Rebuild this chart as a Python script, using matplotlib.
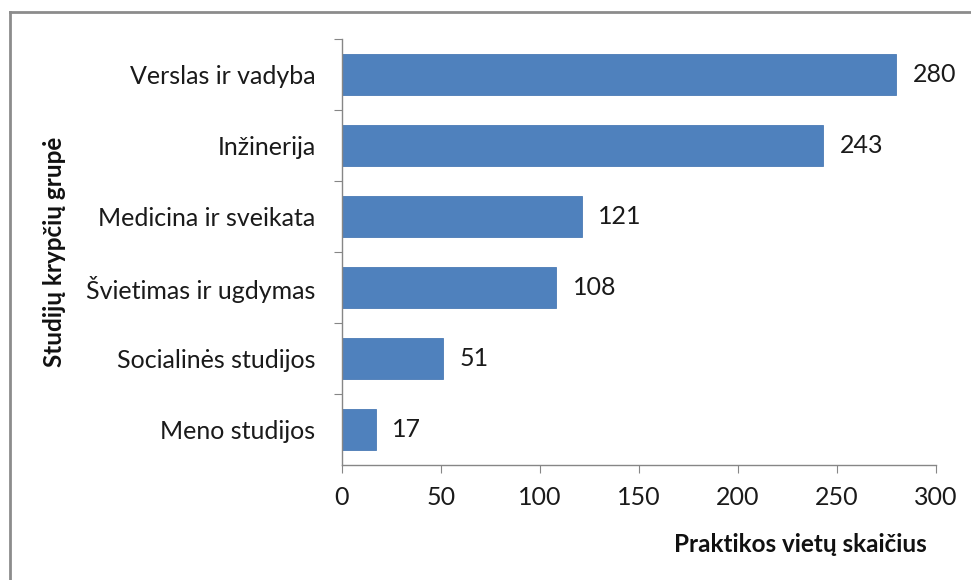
import matplotlib.pyplot as plt
from matplotlib.lines import Line2D

categories = ["Verslas ir vadyba", "Inžinerija", "Medicina ir sveikata",
              "Švietimas ir ugdymas", "Socialinės studijos", "Meno studijos"]
values = [280, 243, 121, 108, 51, 17]

plt.rcParams["font.family"] = ["Lato", "DejaVu Sans"]

fig = plt.figure(figsize=(9.71, 5.8), dpi=100)
ax = fig.add_axes([0.3522, 0.1983, 0.6118, 0.7345])

# chart-area border (only left and top edges visible in the crop)
x0, y0 = 9.5 / 971, 1 - 11.5 / 580
fig.lines.append(Line2D([x0, x0], [0, y0], transform=fig.transFigure, color="#8c8c8c", linewidth=2))
fig.lines.append(Line2D([x0, 1], [y0, y0], transform=fig.transFigure, color="#8c8c8c", linewidth=2))

pos = list(range(len(categories)))[::-1]
ax.barh(pos, values, height=0.58, color="#4f81bd", edgecolor="#4a7ab5", linewidth=0.6)

for p, v in zip(pos, values):
    ax.annotate(str(v), (v, p), xytext=(12, 0), textcoords="offset points",
                va="center", ha="left", fontsize=18, color="#1a1a1a")

ax.set_xlim(0, 300)
ax.set_ylim(-0.5, len(categories) - 0.5)
ax.set_xticks(range(0, 301, 50))
ax.set_yticks([p + 0.5 for p in pos])
ax.set_yticklabels([])
ax.set_yticks(pos, minor=True)
ax.set_yticklabels(categories, minor=True)
ax.tick_params(axis="y", which="minor", length=0, pad=19, labelsize=18, labelcolor="#1a1a1a")
ax.tick_params(axis="y", which="major", length=6, color="#868686", direction="out")
ax.tick_params(axis="x", length=6, color="#868686", direction="out", pad=9,
               labelsize=18, labelcolor="#1a1a1a")

for s in ["top", "right"]:
    ax.spines[s].set_visible(False)
for s in ["left", "bottom"]:
    ax.spines[s].set_color("#868686")
    ax.spines[s].set_linewidth(1)

fig.text(800 / 971, 1 - 545 / 580, "Praktikos vietų skaičius", ha="center", va="center",
         fontsize=17.5, fontweight="bold", color="#111111")
fig.text(55 / 971, 1 - 252 / 580, "Studijų krypčių grupė", ha="center", va="center",
         rotation=90, fontsize=17.5, fontweight="bold", color="#111111")

fig.savefig("out.png", dpi=100)
